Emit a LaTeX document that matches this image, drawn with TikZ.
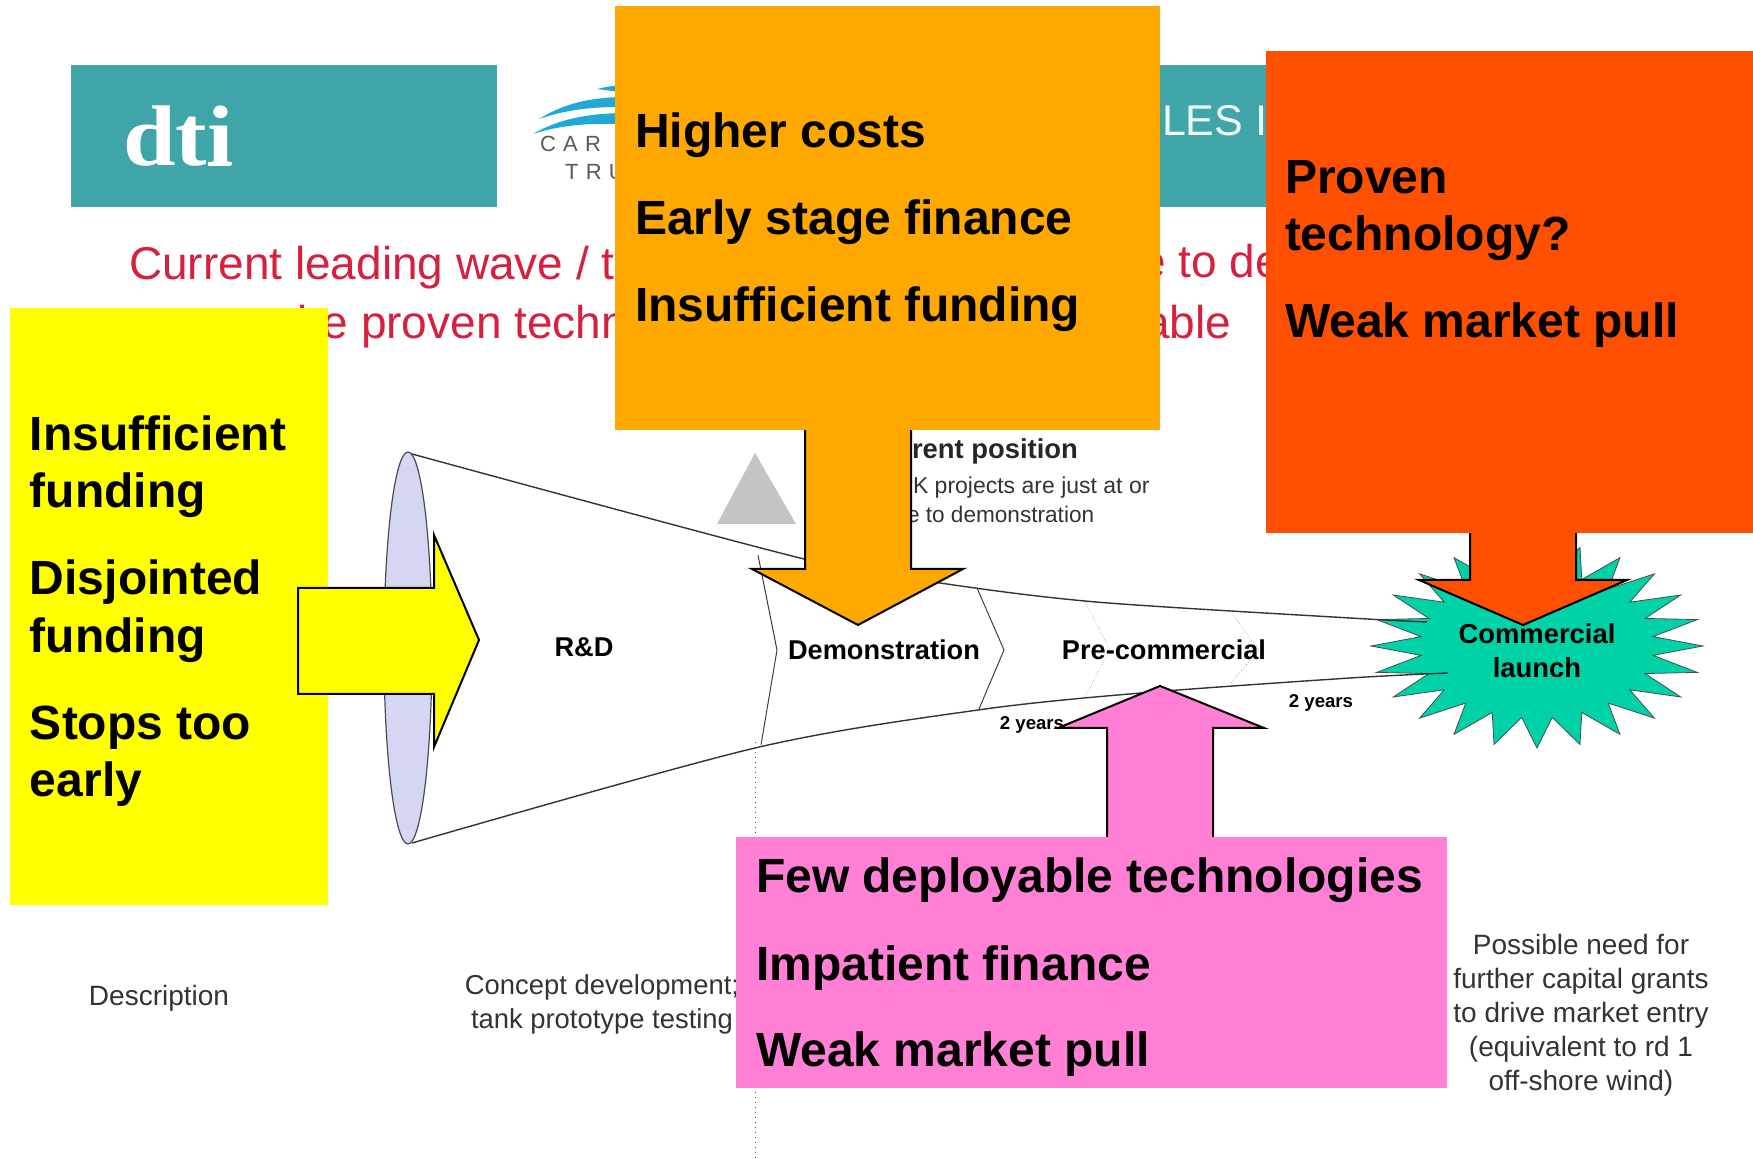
\documentclass[tikz,border=0pt]{standalone}
\usepackage{fontspec}
\usetikzlibrary{shapes.geometric}
\setmainfont{Liberation Sans}
\newfontfamily\logofont{Liberation Serif}
\definecolor{tealfill}{HTML}{3FA5A8}
\definecolor{titlered}{HTML}{D6203F}
\definecolor{swoosh}{HTML}{1FA8D8}
\definecolor{orangefill}{HTML}{FFA800}
\definecolor{redfill}{HTML}{FF4F00}
\definecolor{pinkfill}{HTML}{FF80D4}
\definecolor{yellowfill}{HTML}{FFFF00}
\definecolor{greenfill}{HTML}{00D2A8}
\definecolor{lensfill}{HTML}{D4D6F2}
\tikzset{
  plain/.style={inner sep=0pt, outer sep=0pt},
  titletext/.style={plain, anchor=base west, text=titlered, font=\fontsize{23}{27}\selectfont},
  stagetext/.style={plain, align=center, font=\bfseries\fontsize{13.6}{16.4}\selectfont},
  smalltext/.style={plain, text=black!80, align=center, font=\fontsize{14}{17}\selectfont},
  yearstext/.style={plain, font=\bfseries\fontsize{9.3}{11}\selectfont},
  callbox/.style={plain, anchor=north west, rectangle},
  calltext/.style={plain, anchor=base west, align=left, font=\bfseries\fontsize{24}{28.8}\selectfont},
  blockarrow/.style={draw=black, line width=1pt, miter limit=20},
  funnel/.style={line width=.7pt, black!80},
  gate/.style={line width=.5pt, black!75},
  softgate/.style={line width=.3pt, black!45, densely dotted},
}
\begin{document}
\begin{tikzpicture}[x=.5pt, y=-.5pt]
\useasboundingbox (0,0) rectangle (1753,1159);
% banner
\node[callbox, fill=tealfill, minimum width=213pt, minimum height=71pt] (bannerl) at (71,65){};
\node[callbox, fill=tealfill, minimum width=80pt, minimum height=71pt] (bannerr) at (1130,65){};
\node[plain, anchor=base west, text=white, font=\logofont\bfseries\fontsize{43}{46}\selectfont] (dti) at (123,166){\scalebox{1.1}[1]{dti}};
\fill[white] (208,162) rectangle (231,166);
\node[plain, anchor=base west, text=white!92!tealfill, font=\fontsize{21.5}{24}\selectfont] (les) at (1162,136){LES I};
% trust logo
\fill[swoosh] (539,119) .. controls (565,103) and (590,98) .. (620,97) -- (620,107) .. controls (590,107) and (565,110) .. (539,119) -- cycle;
\fill[swoosh] (533,134) .. controls (560,118) and (590,114) .. (620,113) -- (620,124) .. controls (590,123) and (560,125) .. (533,134) -- cycle;
\fill[swoosh] (597,89) .. controls (605,87) and (612,86) .. (620,85) -- (620,92) .. controls (612,91) and (605,90) .. (597,89) -- cycle;
\node[plain, anchor=base west, text=black!65, font=\fontsize{11}{12}\selectfont] (car) at (540,152){C\,\,A\,\,R};
\node[plain, anchor=base west, text=black!65, font=\fontsize{11}{12}\selectfont] (tru) at (565,180){T\,\,R\,\,U};
% title
\node[titletext] (title1) at (129,280){Current leading wave / t};
\node[titletext] (title2) at (1140,278){e to de};
\node[titletext] (title3) at (246,339){to be proven techn};
\node[titletext, anchor=base east] (title4) at (1231,339){able};
% funnel
\node[ellipse, draw=black!70, fill=lensfill, line width=.6pt, minimum width=24pt, minimum height=196pt, inner sep=0pt] (lens) at (408,648){};
\fill[black!23] (755,453) -- (796,524) -- (717,524) -- cycle;
\draw[dotted, line width=.5pt, black!70] (755,742) -- (755,1159);
\draw[black!70, fill=greenfill, line width=.4pt] plot[samples at={0,7.5,...,352.5}] ({1537+(141.5+24.5*cos(24*\x))*cos(\x)}, {646+(87+15*cos(24*\x))*sin(\x)}) -- cycle;
\draw[funnel] plot[smooth, tension=.5] coordinates {(412,454) (804,559) (940,583) (1096,602) (1350,618) (1427,622)};
\draw[funnel] plot[smooth, tension=.5] coordinates {(412,843) (755,748) (978,710) (1141,693) (1350,678) (1448,673)};
\draw[gate] (758,555) -- (777,650) -- (761,745);
\draw[gate] (977,588) -- (1004,650) -- (979,709);
\draw[softgate] (1085,602) -- (1110,650) -- (1085,697);
\draw[softgate] (1233,615) -- (1259,650) -- (1230,684);
% stage labels
\node[stagetext] (rd) at (584,647){R\&D};
\node[stagetext] (demo) at (884,650){Demonstration};
\node[stagetext] (precom) at (1164,650){Pre-commercial};
\node[stagetext, font=\bfseries\fontsize{13.7}{17}\selectfont] (launch) at (1537,651){Commercial\\launch};
\node[yearstext] (years1) at (1032,725){2 years};
\node[yearstext] (years2) at (1321,703){2 years};
\node[plain, anchor=base west, font=\bfseries\fontsize{13.7}{16}\selectfont, text=black!85] (posn) at (912,459){rent position};
\node[plain, anchor=base west, align=left, font=\fontsize{11.5}{14}\selectfont, text=black!80] (posn1) at (913,494){K projects are just at or};
\node[plain, anchor=base west, font=\fontsize{11.3}{14}\selectfont, text=black!80] (posn2) at (907,523){e to demonstration};
% lower text
\node[smalltext] (descr) at (159,998){Description};
\node[smalltext, font=\fontsize{13.7}{17}\selectfont] (concept) at (602,1004){Concept development;\\tank prototype testing};
\node[smalltext] (grants) at (1581,1015){Possible need for\\further capital grants\\to drive market entry\\(equivalent to rd 1\\off-shore wind)};
% block arrows
\draw[blockarrow, fill=orangefill] (805,420) -- (805,569) -- (752,569) -- (858,625) -- (963,569) -- (911,569) -- (911,420);
\draw[blockarrow, fill=redfill] (1470,520) -- (1470,580) -- (1419,580) -- (1523,625) -- (1627,580) -- (1576,580) -- (1576,520);
\draw[blockarrow, fill=pinkfill] (1107,845) -- (1107,728) -- (1058,728) -- (1160,686) -- (1264,728) -- (1213,728) -- (1213,845);
% call-out boxes
\node[callbox, fill=yellowfill, minimum width=159pt, minimum height=298.5pt] (fundbox) at (10,308){};
\draw[blockarrow, fill=yellowfill] (298,588) -- (434,588) -- (434,535) -- (479,640) -- (434,747) -- (434,694) -- (298,694) -- cycle;
\node[callbox, fill=orangefill, minimum width=272.5pt, minimum height=212pt] (costbox) at (615,6){};
\node[callbox, fill=redfill, minimum width=243.5pt, minimum height=241pt] (techbox) at (1266,51){};
\node[callbox, fill=pinkfill, minimum width=355.5pt, minimum height=125.5pt] (deploybox) at (736,837){};
\node[calltext] (fundtext) at (30,797){Insufficient\\funding\\[14.7pt]Disjointed\\funding\\[14.7pt]Stops too\\early};
\node[calltext] (costtext) at (635,322){Higher costs\\[14.7pt]Early stage finance\\[14.7pt]Insufficient funding};
\node[calltext] (techtext) at (1285,338){Proven\\technology?\\[14.7pt]Weak market pull};
\node[calltext] (deploytext) at (756,1067){Few deployable technologies\\[14.7pt]Impatient finance\\[14.7pt]Weak market pull};
\end{tikzpicture}
\end{document}
